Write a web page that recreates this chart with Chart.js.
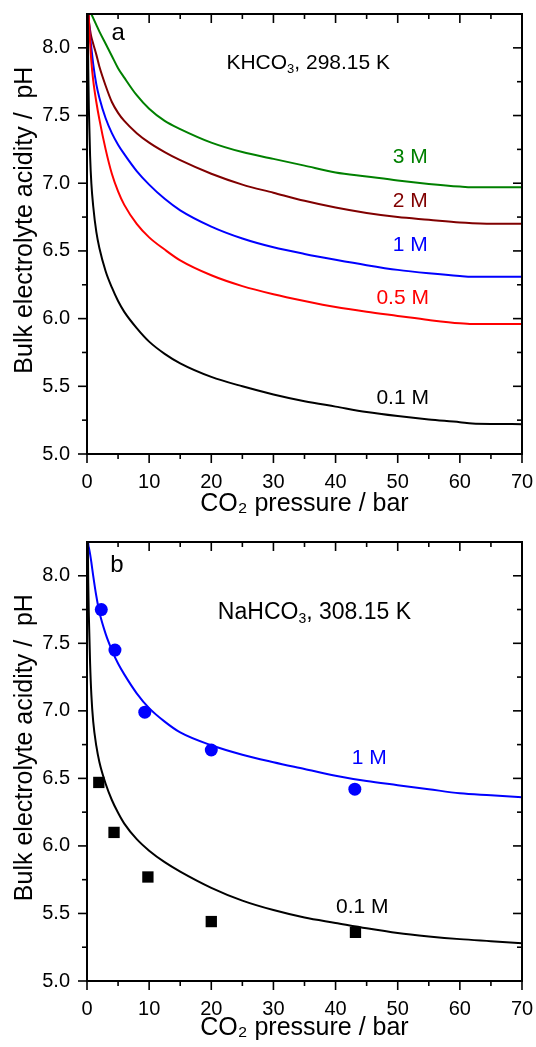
<!DOCTYPE html>
<html>
<head>
<meta charset="utf-8">
<script src="https://cdn.jsdelivr.net/npm/chart.js@4.4.1/dist/chart.umd.min.js"></script>
<style>
  html, body { margin: 0; padding: 0; background: #fff; overflow: hidden; }
  .panel { position: relative; width: 536px; }
  #wrapA { height: 520px; }
  #wrapB { height: 527px; }
</style>
</head>
<body>
<div class="panel" id="wrapA"><canvas id="chartA"></canvas></div>
<div class="panel" id="wrapB"><canvas id="chartB"></canvas></div>
<script>
// ---- data ----

// panel a: KHCO3, 298.15 K  (pressure in bar)
const pressureA = [0.1, 0.2, 0.3, 0.5, 0.7, 1, 1.5, 2, 3, 4, 5, 6, 8, 10, 12.5, 15, 20, 25, 30, 35, 40, 45, 50, 55, 60, 62, 66, 70];
const pH_K01 = [8.35, 7.85, 7.55, 7.2, 7.0, 6.83, 6.64, 6.52, 6.35, 6.23, 6.13, 6.05, 5.93, 5.83, 5.74, 5.67, 5.57, 5.50, 5.44, 5.39, 5.35, 5.31, 5.28, 5.255, 5.235, 5.225, 5.222, 5.22];
const pH_K05 = [8.5, 8.35, 8.22, 8.04, 7.9, 7.76, 7.6, 7.47, 7.25, 7.07, 6.94, 6.84, 6.70, 6.60, 6.51, 6.43, 6.32, 6.24, 6.18, 6.13, 6.085, 6.05, 6.02, 5.99, 5.965, 5.96, 5.96, 5.96];
const pH_K1 = [8.4, 8.28, 8.2, 8.08, 8.0, 7.88, 7.73, 7.63, 7.48, 7.37, 7.285, 7.215, 7.09, 6.99, 6.885, 6.80, 6.68, 6.592, 6.527, 6.478, 6.435, 6.395, 6.36, 6.335, 6.315, 6.31, 6.31, 6.31];
const pH_K2 = [8.35, 8.25, 8.2, 8.13, 8.08, 8.03, 7.95, 7.86, 7.72, 7.6, 7.52, 7.46, 7.37, 7.30, 7.23, 7.17, 7.07, 6.99, 6.93, 6.87, 6.82, 6.78, 6.75, 6.73, 6.71, 6.705, 6.70, 6.70];
const pH_K3 = [8.4, 8.35, 8.32, 8.27, 8.25, 8.22, 8.17, 8.12, 8.03, 7.94, 7.85, 7.78, 7.65, 7.55, 7.46, 7.40, 7.30, 7.23, 7.18, 7.13, 7.08, 7.05, 7.02, 6.995, 6.975, 6.97, 6.97, 6.97];

// panel b: NaHCO3, 308.15 K
const pressureB = [0.1, 0.2, 0.3, 0.5, 0.7, 1, 1.5, 2, 3, 4, 5, 6, 8, 10, 12.5, 15, 20, 25, 30, 35, 40, 45, 50, 55, 60, 65, 70];
const pH_Na01 = [8.4, 7.95, 7.7, 7.35, 7.12, 6.92, 6.74, 6.62, 6.46, 6.34, 6.245, 6.165, 6.05, 5.965, 5.88, 5.81, 5.69, 5.595, 5.525, 5.47, 5.43, 5.39, 5.355, 5.33, 5.31, 5.295, 5.28];
const pH_Na1 = [8.4, 8.24, 8.21, 8.16, 8.1, 8.0, 7.85, 7.73, 7.57, 7.45, 7.35, 7.27, 7.13, 7.02, 6.92, 6.84, 6.745, 6.675, 6.62, 6.57, 6.52, 6.48, 6.45, 6.42, 6.39, 6.375, 6.36];

// measured points, panel b
const expP_Na1 = [2.3, 4.5, 9.3, 20.0, 43.1];
const expPH_Na1 = [7.75, 7.45, 6.99, 6.71, 6.42];
const expP_Na01 = [1.9, 4.35, 9.8, 20.0, 43.2];
const expPH_Na01 = [6.47, 6.10, 5.77, 5.44, 5.36];

// axis ticks
const xTicks = [0, 10, 20, 30, 40, 50, 60, 70];
const xMinor = [5, 15, 25, 35, 45, 55, 65];
const yTicks = [5.0, 5.5, 6.0, 6.5, 7.0, 7.5, 8.0];
const yMinor = [5.25, 5.75, 6.25, 6.75, 7.25, 7.75];

const FONT = '"Liberation Sans", Arial, Helvetica, sans-serif';
const GREEN = '#008000', MAROON = '#800000', BLUE = '#0000ff', RED = '#ff0000', BLACK = '#000000';

function pts(xs, ys) {
    return xs.map((x, i) => ({x: x, y: ys[i]}));
}

function curve(xs, ys, color) {
    return {
        type: 'line',
        data: pts(xs, ys),
        borderColor: color,
        borderWidth: 2,
        pointRadius: 0,
        cubicInterpolationMode: 'monotone',
        clip: 0
    };
}

// frame on top/right plus the small tick marks (outward bottom/left, inward top/right)
const frameTicks = {
    id: 'frameTicks',
    afterDraw(chart) {
        const {ctx, chartArea: a, scales: {x, y}} = chart;
        ctx.save();
        ctx.strokeStyle = '#000';
        ctx.lineWidth = 2;
        ctx.beginPath();
        ctx.moveTo(a.left, a.top);
        ctx.lineTo(a.right, a.top);
        ctx.lineTo(a.right, a.bottom);
        ctx.stroke();

        ctx.lineWidth = 1.6;
        const line = (x1, y1, x2, y2) => {
            ctx.beginPath();
            ctx.moveTo(x1, y1);
            ctx.lineTo(x2, y2);
            ctx.stroke();
        };
        const xMark = (v, len) => {
            const px = x.getPixelForValue(v);
            line(px, a.bottom, px, a.bottom + len);
            line(px, a.top, px, a.top + len);
        };
        const yMark = (v, len) => {
            const py = y.getPixelForValue(v);
            line(a.left - len, py, a.left, py);
            line(a.right - len, py, a.right, py);
        };
        xTicks.forEach(v => xMark(v, 9));
        xMinor.forEach(v => xMark(v, 5));
        yTicks.forEach(v => yMark(v, 9));
        yMinor.forEach(v => yMark(v, 5));
        ctx.restore();
    }
};

// text labels inside the plot, with optional subscripts
const notesPlugin = {
    id: 'notes',
    afterDatasetsDraw(chart, args, opts) {
        const {ctx, scales: {x, y}} = chart;
        ctx.save();
        ctx.textBaseline = 'middle';
        ctx.textAlign = 'left';
        opts.items.forEach(n => {
            const subSize = Math.round(n.size * 0.62);
            let total = 0;
            n.parts.forEach(([t, sub]) => {
                ctx.font = (sub ? subSize : n.size) + 'px ' + FONT;
                total += ctx.measureText(t).width;
            });
            let cx = x.getPixelForValue(n.x) - total / 2;
            const cy = y.getPixelForValue(n.y);
            ctx.fillStyle = n.color;
            n.parts.forEach(([t, sub]) => {
                ctx.font = (sub ? subSize : n.size) + 'px ' + FONT;
                ctx.fillText(t, cx, sub ? cy + n.size * 0.3 : cy);
                cx += ctx.measureText(t).width;
            });
        });
        ctx.restore();
    }
};

function makeChart(id, datasets, notes, padTop, titlePad) {
    return new Chart(document.getElementById(id), {
        data: {datasets: datasets},
        options: {
            responsive: true,
            maintainAspectRatio: false,
            animation: false,
            devicePixelRatio: 1,
            layout: {padding: {top: padTop, right: 14, left: 0, bottom: 0}},
            plugins: {
                legend: {display: false},
                tooltip: {enabled: false},
                notes: {items: notes}
            },
            scales: {
                x: {
                    type: 'linear',
                    min: 0,
                    max: 70,
                    afterBuildTicks: s => { s.ticks = xTicks.map(v => ({value: v})); },
                    afterFit: s => { s.height = 66; s.paddingLeft = 0; s.paddingRight = 0; },
                    grid: {display: false, drawTicks: false},
                    border: {display: true, color: '#000', width: 2},
                    ticks: {color: '#000', padding: 16, font: {family: FONT, size: 20}, callback: v => v},
                    title: {
                        display: true,
                        text: 'CO₂ pressure / bar',
                        color: '#000',
                        font: {family: FONT, size: 25},
                        padding: {top: 0, bottom: titlePad}
                    }
                },
                y: {
                    type: 'linear',
                    min: 5,
                    max: 8.25,
                    afterBuildTicks: s => { s.ticks = yTicks.map(v => ({value: v})); },
                    afterFit: s => { s.width = 87; s.paddingTop = 0; s.paddingBottom = 0; },
                    grid: {display: false, drawTicks: false},
                    border: {display: true, color: '#000', width: 2},
                    ticks: {color: '#000', padding: 17, font: {family: FONT, size: 20}, callback: v => v.toFixed(1)},
                    title: {
                        display: true,
                        text: '\u00a0\u00a0\u00a0\u00a0Bulk electrolyte acidity /  pH',
                        color: '#000',
                        font: {family: FONT, size: 25},
                        padding: {top: 10, bottom: 0}
                    }
                }
            }
        },
        plugins: [frameTicks, notesPlugin]
    });
}

const notesA = [
    {parts: [['a', 0]], x: 5.0, y: 8.11, size: 24, color: BLACK},
    {parts: [['KHCO', 0], ['3', 1], [', 298.15 K', 0]], x: 35.6, y: 7.89, size: 21, color: BLACK},
    {parts: [['3 M', 0]], x: 52, y: 7.19, size: 21, color: GREEN},
    {parts: [['2 M', 0]], x: 52, y: 6.87, size: 21, color: MAROON},
    {parts: [['1 M', 0]], x: 52, y: 6.54, size: 21, color: BLUE},
    {parts: [['0.5 M', 0]], x: 50.8, y: 6.15, size: 21, color: RED},
    {parts: [['0.1 M', 0]], x: 50.8, y: 5.41, size: 21, color: BLACK}
];

const notesB = [
    {parts: [['b', 0]], x: 4.8, y: 8.08, size: 24, color: BLACK},
    {parts: [['NaHCO', 0], ['3', 1], [', 308.15 K', 0]], x: 36.6, y: 7.73, size: 23, color: BLACK},
    {parts: [['1 M', 0]], x: 45.4, y: 6.65, size: 21, color: BLUE},
    {parts: [['0.1 M', 0]], x: 44.3, y: 5.55, size: 21, color: BLACK}
];

makeChart('chartA', [
    curve(pressureA, pH_K01, BLACK),
    curve(pressureA, pH_K05, RED),
    curve(pressureA, pH_K1, BLUE),
    curve(pressureA, pH_K2, MAROON),
    curve(pressureA, pH_K3, GREEN)
], notesA, 14, 1);

makeChart('chartB', [
    curve(pressureB, pH_Na01, BLACK),
    curve(pressureB, pH_Na1, BLUE),
    {
        type: 'scatter',
        data: pts(expP_Na1, expPH_Na1),
        pointStyle: 'circle',
        pointRadius: 6.5,
        backgroundColor: BLUE,
        borderWidth: 0,
        clip: false
    },
    {
        type: 'scatter',
        data: pts(expP_Na01, expPH_Na01),
        pointStyle: 'rect',
        pointRadius: 8,
        backgroundColor: BLACK,
        borderWidth: 0,
        clip: false
    }
], notesB, 22, 4);
</script>
</body>
</html>
